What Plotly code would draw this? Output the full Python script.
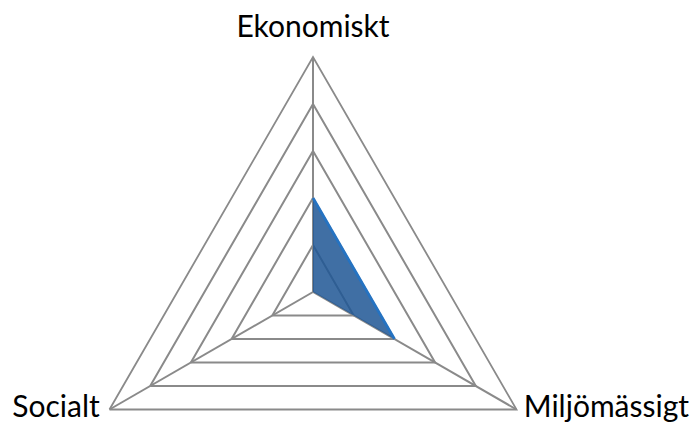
import plotly.graph_objects as go

# Axis categories and the one data series
categories = ["Ekonomiskt", "Miljömässigt", "Socialt"]
values = [2, 2, 0]
radial_max = 5

W, H = 695, 527
cx, cy, R = 313, 292, 235  # centre and radius of the polar circle, in pixels
grid = "#8a8a8a"

fig = go.Figure()

# filled area, closed by repeating the first point
fig.add_trace(go.Scatterpolar(
    r=values + values[:1],
    theta=categories + categories[:1],
    mode="lines",
    fill="toself",
    fillcolor="rgba(30,86,148,0.85)",
    line=dict(color="rgba(0,0,0,0)", width=0),
    showlegend=False,
    hoverinfo="skip",
))

# bright edge only shows between the first two points in the original
fig.add_trace(go.Scatterpolar(
    r=values[:2],
    theta=categories[:2],
    mode="lines",
    line=dict(color="#2573c2", width=2.8),
    showlegend=False,
    hoverinfo="skip",
))

# axis names as text at the outer vertices (invisible markers give the offset)
fig.add_trace(go.Scatterpolar(
    r=[radial_max] * len(categories),
    theta=categories,
    mode="markers+text",
    text=categories,
    textposition=["top center", "middle right", "middle left"],
    textfont=dict(family="Lato", size=30, color="black"),
    marker=dict(size=[18, 10, 14], opacity=0),
    cliponaxis=False,
    showlegend=False,
    hoverinfo="skip",
))

fig.update_layout(
    width=W,
    height=H,
    margin=dict(l=0, r=0, t=0, b=0),
    paper_bgcolor="white",
    font=dict(family="Lato", size=30, color="black"),
    polar=dict(
        domain=dict(x=[(cx - R) / W, (cx + R) / W], y=[(H - cy - R) / H, (H - cy + R) / H]),
        gridshape="linear",
        bgcolor="white",
        radialaxis=dict(
            range=[0, radial_max],
            dtick=1,
            showticklabels=False,
            ticks="",
            showline=False,
            gridcolor=grid,
            gridwidth=1.8,
        ),
        angularaxis=dict(
            direction="clockwise",
            rotation=90,
            showline=True,
            linecolor=grid,
            linewidth=1.8,
            gridcolor=grid,
            gridwidth=1.6,
            showticklabels=False,
            ticks="",
        ),
    ),
)

fig.write_html(
    "out.html",
    config={"displayModeBar": False},
    post_script="document.body.style.margin='0';document.body.style.overflow='hidden';",
)
